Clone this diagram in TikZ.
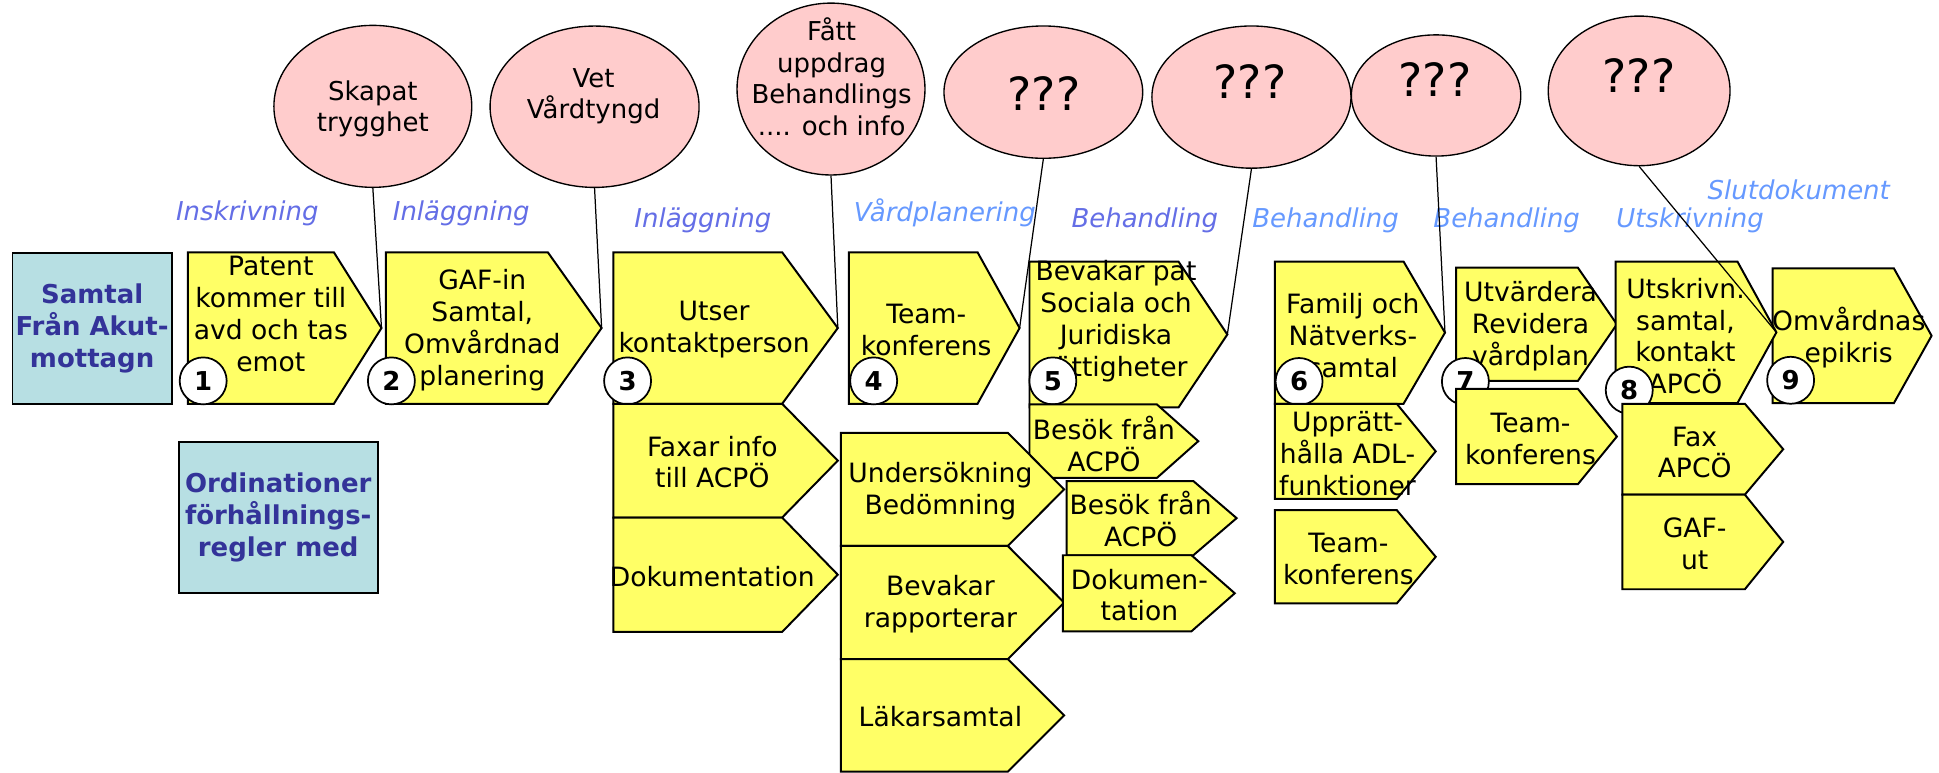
\documentclass[tikz,border=0pt]{standalone}
\usepackage{fontspec}
\setmainfont{DejaVu Sans}
\usetikzlibrary{shapes.geometric}
\definecolor{yel}{HTML}{FFFF66}
\definecolor{pinkf}{HTML}{FFCCCC}
\definecolor{tealf}{HTML}{B7DFE3}
\definecolor{navy}{HTML}{333399}
\definecolor{lblA}{RGB}{100,110,230}
\definecolor{lblB}{RGB}{102,153,255}
\tikzset{
  pent/.style={fill=yel, draw=black, line width=1.6pt, line join=miter},
  btext/.style={align=center, inner sep=0pt, font=\fontsize{21.5}{25.8}\selectfont},
  numc/.style={circle, draw=black, fill=white, line width=1.4pt, minimum size=38pt, inner sep=0pt, font=\bfseries\fontsize{21}{24}\selectfont},
  bubble/.style={ellipse, draw=black, fill=pinkf, line width=1.1pt, inner sep=0pt},
  etext/.style={align=center, inner sep=0pt, font=\fontsize{21}{25.5}\selectfont},
  qtext/.style={inner sep=0pt, font=\fontsize{37}{40}\selectfont},
  phaseA/.style={inner sep=0pt, text=lblA, font=\itshape\fontsize{21}{24}\selectfont},
  phaseB/.style={inner sep=0pt, text=lblB, font=\itshape\fontsize{21}{24}\selectfont},
  tealbox/.style={draw=black, fill=tealf, line width=1.4pt, align=center, inner sep=0pt, text=navy, font=\bfseries\fontsize{21}{25.6}\selectfont},
  conn/.style={draw=black, line width=1pt},
}
\newcommand{\pbox}[8]{%
  \path[pent] (#2,#3) -- (#4,#3) -- (#5,{(#3+#6)/2}) -- (#4,#6) -- (#2,#6) -- cycle;
  \coordinate (#1-tip) at (#5,{(#3+#6)/2});
  \node[btext] (#1) at (#7) {#8};
}
\begin{document}
\begin{tikzpicture}[x=1pt,y=-1pt]
\useasboundingbox[fill=white] (0,0) rectangle (1568,625);

% bubbles
\node[bubble, minimum width=160pt, minimum height=131pt] (E1) at (301.5,86) {};
\node[etext] (E1t) at (301.5,88) {Skapat\\trygghet};
\node[bubble, minimum width=169pt, minimum height=130.5pt] (E2) at (480.8,86.3) {};
\node[etext] (E2t) at (480,78) {Vet\\Vårdtyngd};
\node[bubble, minimum width=152pt, minimum height=139pt] (E3) at (672,72) {};
\node[etext] (E3t) at (672.5,62) {Fått\\uppdrag\\Behandlings\\.... och info};
\node[bubble, minimum width=160.7pt, minimum height=107pt] (E4) at (843.7,74.5) {};
\node[qtext] (E4t) at (844.2,76) {???};
\node[bubble, minimum width=161pt, minimum height=115pt] (E5) at (1012,78.5) {};
\node[qtext] (E5t) at (1010.7,66) {???};
\node[bubble, minimum width=137pt, minimum height=98pt] (E6) at (1161.3,77.2) {};
\node[qtext] (E6t) at (1160.5,64.7) {???};
\node[bubble, minimum width=147pt, minimum height=121pt] (E7) at (1325.5,73.5) {};
\node[qtext] (E7t) at (1325.3,61.3) {???};

% phase labels
\node[phaseA] (L1) at (200,172.5) {Inskrivning};
\node[phaseA] (L2) at (373,172.5) {Inläggning};
\node[phaseA] (L3) at (568.4,178) {Inläggning};
\node[phaseB] (L4) at (764,172) {Vårdplanering};
\node[phaseA] (L5) at (925.7,178) {Behandling};
\node[phaseB] (L6) at (1072,178) {Behandling};
\node[phaseB] (L7) at (1218.4,178) {Behandling};
\node[phaseB] (L8) at (1366.7,178) {Utskrivning};
\node[phaseB] (L9) at (1454.6,153.6) {Slutdokument};

% teal boxes
\node[tealbox, minimum width=128.6pt, minimum height=122.4pt] (samtal) at (74.5,265.5) {Samtal\\Från Akut-\\mottagn};
\node[tealbox, minimum width=161pt, minimum height=122.6pt] (ordin) at (225,418.5) {Ordinationer\\förhållnings-\\regler med};

% column 1-3
\pbox{b1}{152}{204}{270}{308.5}{326.5}{219,254}{Patent\\kommer till\\avd och tas\\emot}
\node[numc] (c1) at (164.3,308) {1};
\pbox{b2}{312}{204}{443}{486.5}{326.5}{390,267}{GAF-in\\Samtal,\\Omvårdnad\\planering}
\node[numc] (c2) at (316.5,308) {2};
\pbox{b3}{496}{204}{632.5}{677.5}{326.5}{577.5,266.5}{Utser\\kontaktperson}
\node[numc] (c3) at (507.5,308) {3};
\pbox{b3b}{496}{326.5}{632.5}{677.5}{418.5}{576,373.7}{Faxar info\\till ACPÖ}
\pbox{b3c}{496}{418.5}{632.5}{677.5}{511}{576,466}{Dokumentation}

% column 4-5
\pbox{b4}{686.5}{204}{790.5}{824.5}{326.5}{749,266.5}{Team-\\konferens}
\node[numc] (c4) at (706.5,308) {4};
\pbox{b5}{832.5}{211.5}{953}{992.5}{329.5}{902.5,259.5}{Bevakar pat\\Sociala och\\Juridiska\\rättigheter}
\node[numc] (c5) at (851.4,308) {5};
\pbox{b5b}{832.5}{327}{935.5}{969}{386.5}{892.7,359}{Besök från\\ACPÖ}
\pbox{b4b}{680}{350}{815}{860.5}{441.5}{760.5,397}{Undersökning\\Bedömning}
\pbox{b4c}{680}{441.5}{815}{860.5}{533}{760.5,488.6}{Bevakar\\rapporterar}
\pbox{b4d}{680}{533}{815}{860.5}{624}{760.5,579.5}{Läkarsamtal}
\pbox{b5c}{862.5}{389}{965}{1000}{449}{922.4,419.6}{Besök från\\ACPÖ}
\pbox{b5d}{859.5}{449}{963.5}{998.5}{510.5}{921.4,481.2}{Dokumen-\\tation}

% column 6
\pbox{b6}{1031}{211.5}{1135}{1168.5}{326.5}{1094,271.6}{Familj och\\Nätverks-\\samtal}
\node[numc] (c6) at (1050.5,308.5) {6};
\pbox{b6b}{1031}{326.5}{1129.5}{1161}{403.5}{1089.7,366.6}{Upprätt-\\hålla ADL-\\funktioner}
\pbox{b6c}{1031}{412.5}{1129.5}{1161}{488}{1090.4,452.2}{Team-\\konferens}

% column 7
\pbox{b7}{1177.5}{216.5}{1276}{1307.5}{308}{1237.7,263.5}{Utvärdera\\Revidera\\vårdplan}
\node[numc] (c7) at (1185,308.5) {7};
\pbox{b7b}{1177.5}{314.5}{1276}{1307.5}{391.5}{1237.7,354.7}{Team-\\konferens}

% column 9 then 8
\pbox{b9}{1433.5}{217}{1531.5}{1562}{326}{1495,273}{Omvårdnas\\epikris}
\node[numc] (c9) at (1448,307.5) {9};
\pbox{b8}{1306.5}{211.5}{1405}{1436.5}{326}{1363,271.8}{Utskrivn.\\samtal,\\kontakt\\APCÖ}
\node[numc] (c8) at (1317.5,315.5) {8};
\pbox{b8b}{1312}{326.5}{1411}{1442}{400}{1370.4,365.9}{Fax\\APCÖ}
\pbox{b8c}{1312}{400}{1411}{1442}{476.5}{1370.4,440}{GAF-\\ut}

% connectors
\draw[conn] (E1.south) -- (b1-tip);
\draw[conn] (E2.south) -- (b2-tip);
\draw[conn] (E3.south) -- (b3-tip);
\draw[conn] (E4.south) -- (b4-tip);
\draw[conn] (E5.south) -- (b5-tip);
\draw[conn] (E6.south) -- (b6-tip);
\draw[conn] (E7.south) -- (b8-tip);
\end{tikzpicture}
\end{document}
